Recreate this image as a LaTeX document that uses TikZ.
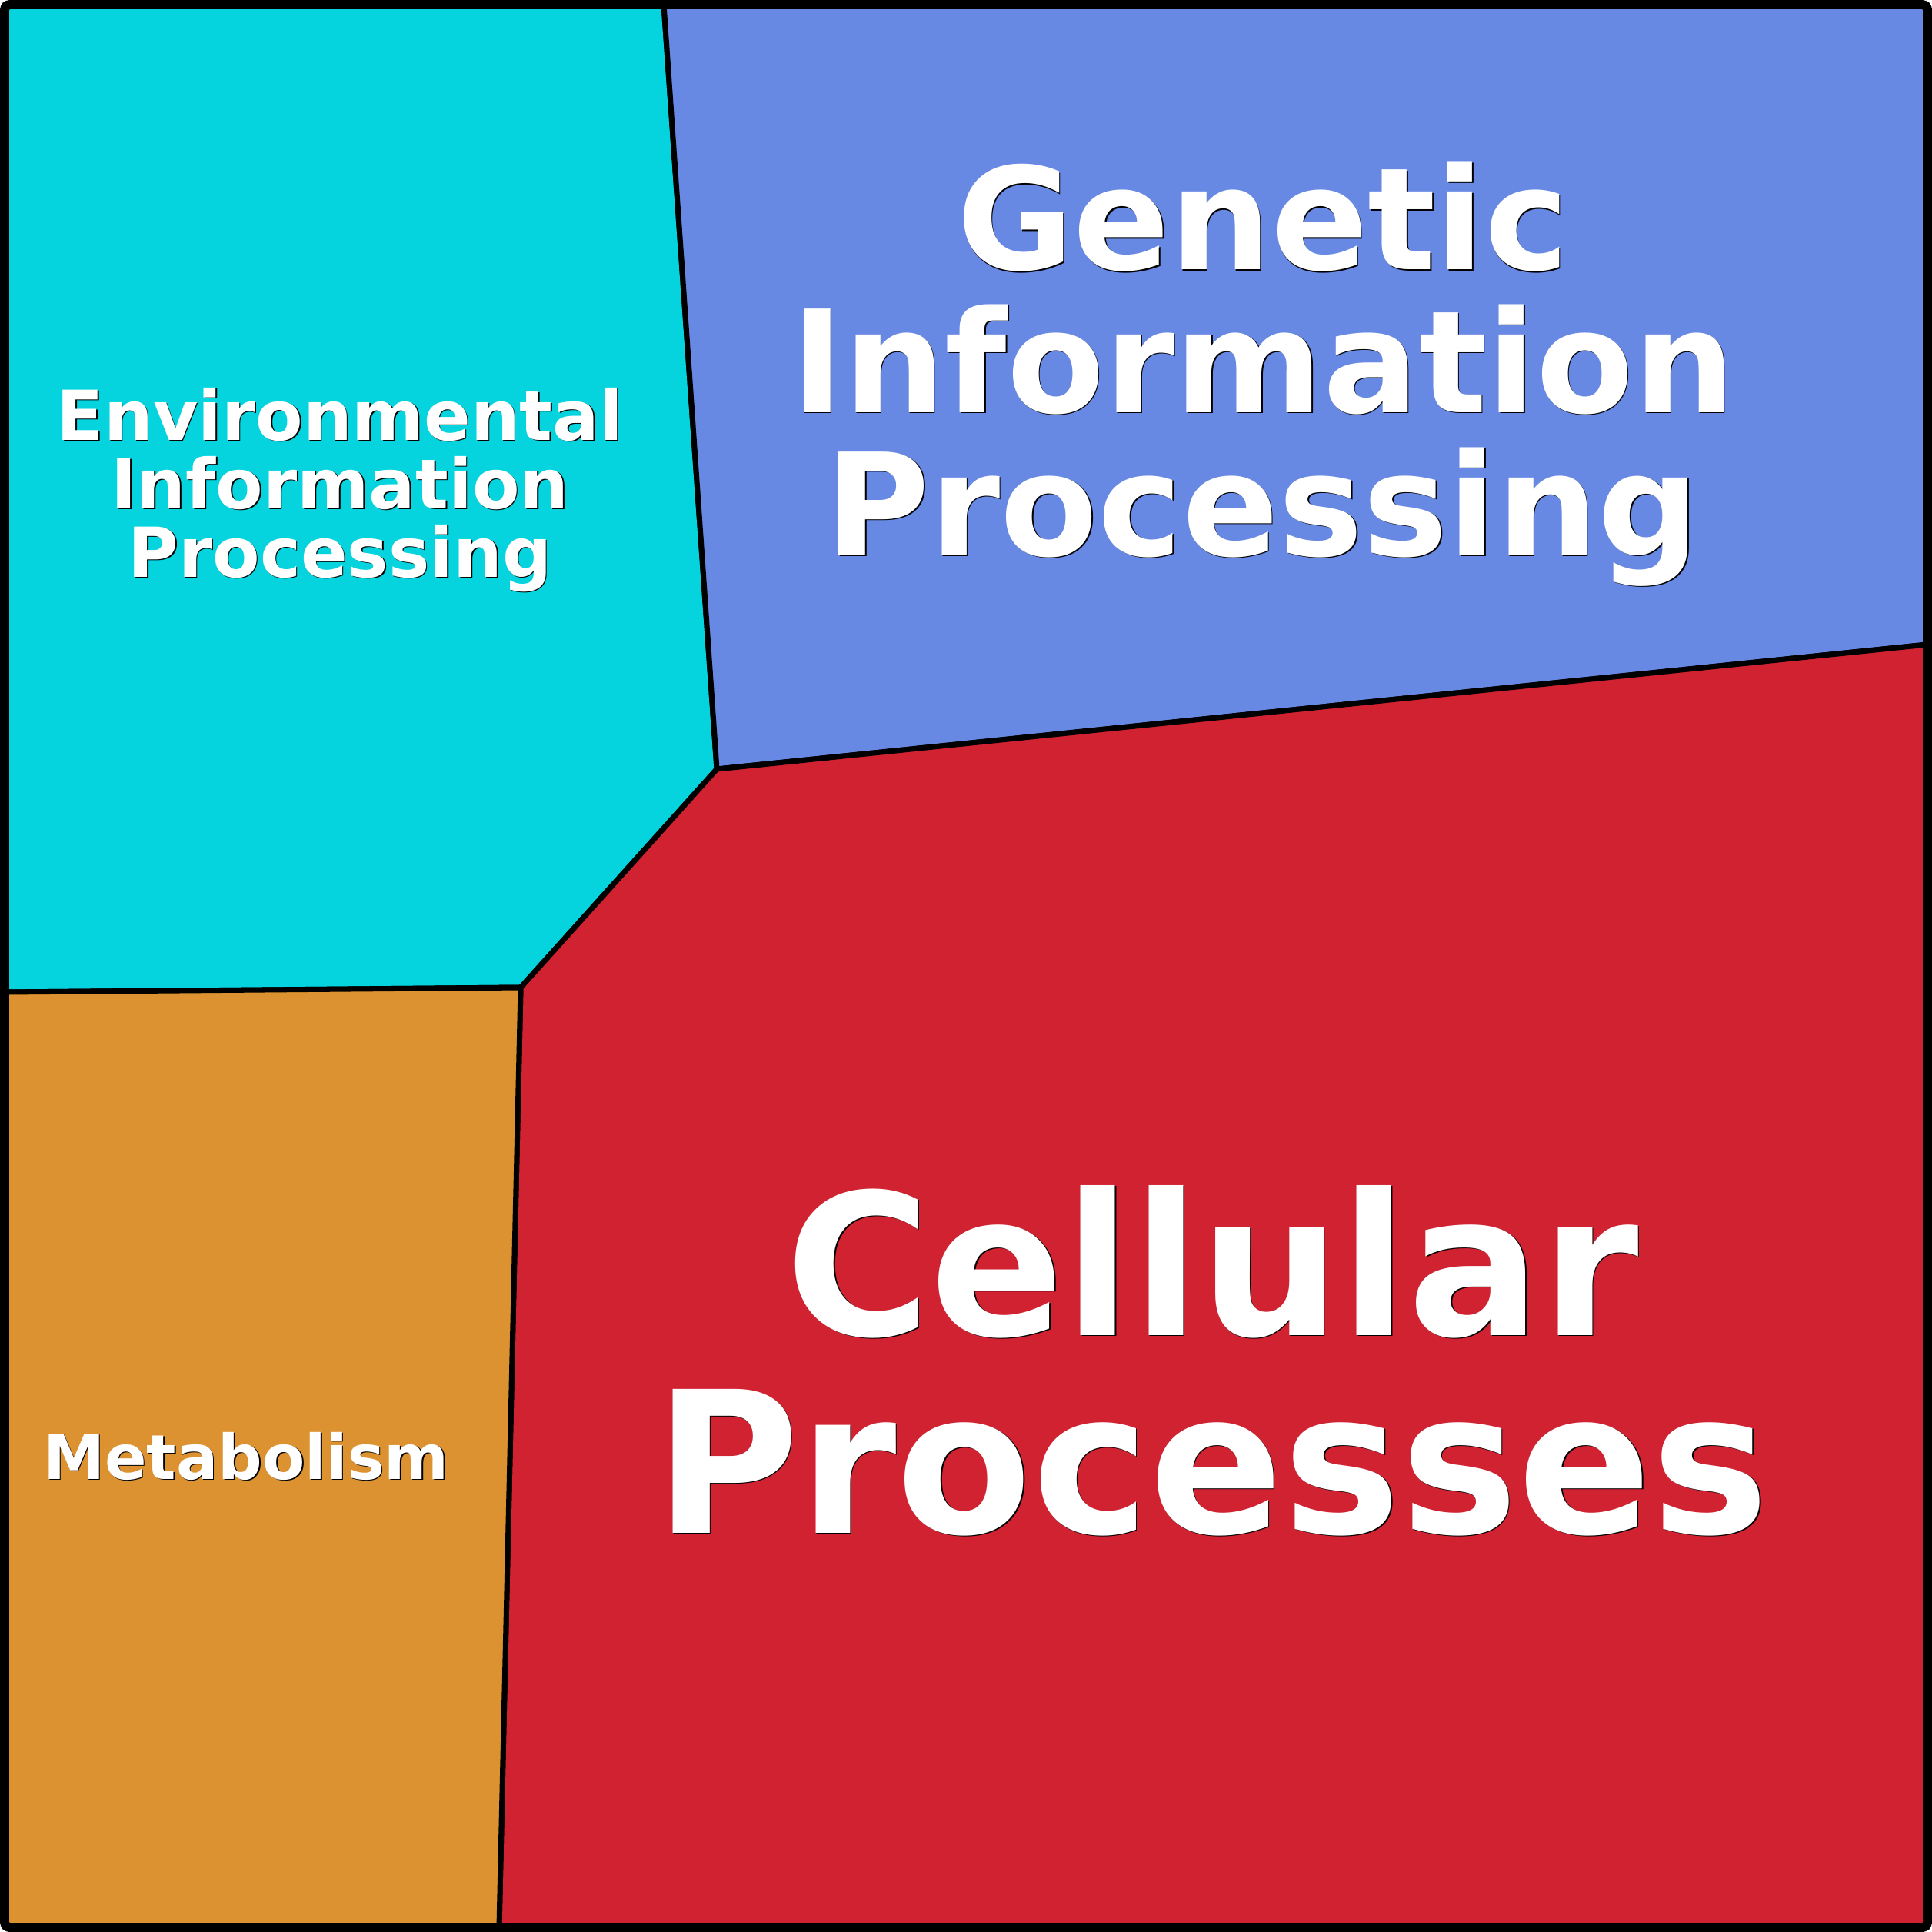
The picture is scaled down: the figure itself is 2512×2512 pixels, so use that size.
\documentclass[tikz,border=0pt]{standalone}
\usepackage{fontspec}
\setmainfont{DejaVu Sans}

\definecolor{envcyan}{RGB}{5,212,223}
\definecolor{genblue}{RGB}{104,137,227}
\definecolor{cellred}{RGB}{208,34,48}
\definecolor{metorange}{RGB}{220,146,48}

\tikzset{
    region/.style={draw=black, line width=2pt, line join=round},
    keggname/.style={text=white, font=\bfseries, align=center, inner sep=0pt, anchor=base},
}
\newcommand{\shadowed}[1]{\makebox[0pt][l]{\hspace{0.45pt}\raisebox{-0.45pt}{\color{black}#1}}#1}

\begin{document}
\begin{tikzpicture}[x=0.01cm, y=-0.01cm]
    \useasboundingbox (0,0) rectangle (2512,2512);
    \coordinate (top) at (863,6);
    \coordinate (mid) at (932,1000);
    \coordinate (right) at (2506,838);
    \coordinate (low) at (677,1284);
    \coordinate (left) at (6,1290);
    \coordinate (bottom) at (649,2506);

    \filldraw[region, fill=envcyan] (6,6) -- (top) -- (mid) -- (low) -- (left) -- cycle;
    \filldraw[region, fill=genblue] (top) -- (2506,6) -- (right) -- (mid) -- cycle;
    \filldraw[region, fill=cellred] (mid) -- (right) -- (2506,2506) -- (bottom) -- (low) -- cycle;
    \filldraw[region, fill=metorange] (left) -- (low) -- (bottom) -- (6,2506) -- cycle;
    \draw[line width=3.4pt, rounded corners=2pt] (6,6) rectangle (2506,2506);

    % base anchor sits on the last line
    \node[keggname, font=\bfseries\fontsize{25.5}{25.3}\selectfont] (env) at (442,750)
        {\shadowed{Environmental}\\\shadowed{Information}\\\shadowed{Processing}};
    \node[keggname, font=\bfseries\fontsize{52.6}{52.8}\selectfont] (gen) at (1642,722)
        {\shadowed{Genetic}\\\shadowed{Information}\\\shadowed{Processing}};
    \node[keggname, font=\bfseries\fontsize{73}{73}\selectfont] (cell) at (1576,1993)
        {\shadowed{Cellular}\\\shadowed{Processes}};
    \node[keggname, font=\bfseries\fontsize{22.9}{22.9}\selectfont] (met) at (320,1923)
        {\shadowed{Metabolism}};
\end{tikzpicture}
\end{document}
